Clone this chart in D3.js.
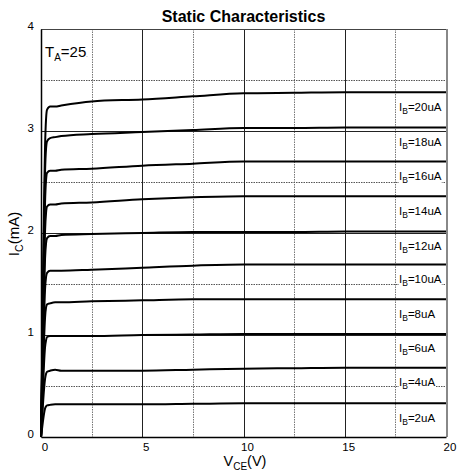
<!DOCTYPE html>
<html>
<head>
<meta charset="utf-8">
<script src="https://cdn.jsdelivr.net/npm/d3@7"></script>
<style>
  html, body { margin: 0; padding: 0; background: #fff; }
  svg { display: block; font-family: "Liberation Sans", Arial, sans-serif; }
</style>
</head>
<body>
<svg id="chart" width="458" height="473"></svg>
<script>
// Collector-emitter voltage sample points (V)
const vce = [0, 0.05, 0.1, 0.15, 0.2, 0.25, 0.3, 0.45, 0.7, 1, 2.5, 5, 7.5, 10, 12.5, 15, 17.5, 20];

// Base current of each curve (uA)
const ibLevels = [20, 18, 16, 14, 12, 10, 8, 6, 4, 2];

// Collector current (mA) for each base current, at the vce points above
const ic20 = [0, 0.70, 1.55, 2.30, 2.85, 3.12, 3.21, 3.24, 3.24, 3.25, 3.29, 3.31, 3.34, 3.37, 3.375, 3.38, 3.38, 3.38];
const ic18 = [0, 0.65, 1.40, 2.10, 2.60, 2.83, 2.90, 2.93, 2.94, 2.95, 2.97, 2.99, 3.01, 3.03, 3.03, 3.035, 3.035, 3.035];
const ic16 = [0, 0.58, 1.25, 1.85, 2.30, 2.52, 2.59, 2.61, 2.61, 2.62, 2.63, 2.66, 2.68, 2.70, 2.70, 2.70, 2.70, 2.70];
const ic14 = [0, 0.52, 1.10, 1.62, 2.02, 2.20, 2.26, 2.28, 2.28, 2.29, 2.30, 2.33, 2.35, 2.36, 2.36, 2.36, 2.36, 2.36];
const ic12 = [0, 0.45, 0.95, 1.40, 1.75, 1.90, 1.95, 1.97, 1.97, 1.98, 1.99, 2.00, 2.01, 2.01, 2.01, 2.015, 2.015, 2.015];
const ic10 = [0, 0.38, 0.80, 1.17, 1.45, 1.57, 1.61, 1.63, 1.63, 1.63, 1.64, 1.66, 1.68, 1.69, 1.69, 1.69, 1.69, 1.69];
const ic8  = [0, 0.31, 0.65, 0.95, 1.17, 1.27, 1.30, 1.31, 1.32, 1.32, 1.33, 1.34, 1.35, 1.35, 1.35, 1.35, 1.35, 1.35];
const ic6  = [0, 0.24, 0.50, 0.72, 0.88, 0.95, 0.98, 0.99, 0.99, 0.99, 0.99, 1.00, 1.005, 1.01, 1.01, 1.01, 1.01, 1.01];
const ic4  = [0, 0.16, 0.33, 0.47, 0.57, 0.62, 0.64, 0.65, 0.66, 0.65, 0.65, 0.65, 0.66, 0.67, 0.675, 0.68, 0.68, 0.68];
const ic2  = [0, 0.08, 0.16, 0.23, 0.28, 0.30, 0.31, 0.315, 0.32, 0.32, 0.32, 0.32, 0.325, 0.33, 0.33, 0.33, 0.33, 0.33];

const icSeries = [ic20, ic18, ic16, ic14, ic12, ic10, ic8, ic6, ic4, ic2];

// Axis ticks and grid positions
const xTicks = [0, 5, 10, 15, 20];
const yTicks = [0, 1, 2, 3, 4];
const xMajorGrid = [5, 10, 15];
const xMinorGrid = [2.5, 7.5, 12.5, 17.5];
const yMajorGrid = [1, 2, 3];
const yMinorGrid = [0.5, 1.5, 2.5, 3.5];

const svg = d3.select("#chart");
const plotLeft = 41, plotRight = 446, plotTop = 29, plotBottom = 437;

const x = d3.scaleLinear().domain([0, 20]).range([plotLeft, plotRight]);
const y = d3.scaleLinear().domain([0, 4]).range([plotBottom, plotTop]);

// Grid
const grid = svg.append("g");
grid.selectAll(".vmin").data(xMinorGrid).join("line")
  .attr("x1", d => Math.round(x(d)) + 0.5).attr("x2", d => Math.round(x(d)) + 0.5)
  .attr("y1", plotTop).attr("y2", plotBottom)
  .attr("stroke", "#777").attr("stroke-width", 1).attr("stroke-dasharray", "1.5,1");
grid.selectAll(".hmin").data(yMinorGrid).join("line")
  .attr("x1", plotLeft).attr("x2", plotRight)
  .attr("y1", d => Math.round(y(d)) + 0.5).attr("y2", d => Math.round(y(d)) + 0.5)
  .attr("stroke", "#555").attr("stroke-width", 1).attr("stroke-dasharray", "1.5,1");
grid.selectAll(".vmaj").data(xMajorGrid).join("line")
  .attr("x1", d => Math.round(x(d)) + 0.5).attr("x2", d => Math.round(x(d)) + 0.5)
  .attr("y1", plotTop).attr("y2", plotBottom)
  .attr("stroke", "#222").attr("stroke-width", 1);
grid.selectAll(".hmaj").data(yMajorGrid).join("line")
  .attr("x1", plotLeft).attr("x2", plotRight)
  .attr("y1", d => Math.round(y(d)) + 0.5).attr("y2", d => Math.round(y(d)) + 0.5)
  .attr("stroke", "#222").attr("stroke-width", 1);

// Frame: top and right edges
svg.append("line").attr("x1", plotLeft).attr("x2", plotRight + 1)
  .attr("y1", plotTop + 0.5).attr("y2", plotTop + 0.5).attr("stroke", "#444").attr("stroke-width", 1);
svg.append("line").attr("x1", plotRight + 1).attr("x2", plotRight + 1)
  .attr("y1", plotTop).attr("y2", plotBottom).attr("stroke", "#888").attr("stroke-width", 2);

// Axes
const xAxis = svg.append("g").attr("transform", `translate(0,${plotBottom})`)
  .call(d3.axisBottom(x).tickValues(xTicks).tickSize(0).tickPadding(6).tickFormat(d3.format("d")));
xAxis.select(".domain").attr("stroke", "#000").attr("stroke-width", 1.5);
xAxis.selectAll("text").attr("font-size", 11.5).attr("fill", "#000")
  .attr("font-family", "Liberation Sans, Arial, sans-serif").attr("dx", 3.5);

const yAxis = svg.append("g").attr("transform", `translate(${plotLeft},0)`)
  .call(d3.axisLeft(y).tickValues(yTicks).tickSize(0).tickPadding(7).tickFormat(d3.format("d")));
yAxis.select(".domain").attr("stroke", "#000").attr("stroke-width", 1.5);
yAxis.selectAll("text").attr("font-size", 11.5).attr("fill", "#000")
  .attr("font-family", "Liberation Sans, Arial, sans-serif").attr("dy", "0.02em");

// Characteristic curves
const line = d3.line()
  .x((d, i) => x(vce[i]))
  .y(d => y(d))
  .curve(d3.curveMonotoneX);

svg.append("g").selectAll("path").data(icSeries).join("path")
  .attr("d", d => line(d))
  .attr("fill", "none").attr("stroke", "#000").attr("stroke-width", 2)
  .attr("stroke-linejoin", "round");

// Curve labels, each just under the flat end of its curve
const labels = svg.append("g");
ibLevels.forEach((ib, k) => {
  const last = icSeries[k][icSeries[k].length - 1];
  const g = labels.append("g");
  const t = g.append("text").attr("x", 399).attr("y", y(last) + 18.5)
    .attr("font-size", 11.5).attr("fill", "#000");
  t.append("tspan").text("I");
  t.append("tspan").attr("font-size", 8.5).attr("dy", 3).text("B");
  t.append("tspan").attr("dy", -3).text(`=${ib}uA`);
  const bb = t.node().getBBox();
  g.insert("rect", "text").attr("x", bb.x).attr("y", bb.y)
    .attr("width", bb.width).attr("height", bb.height).attr("fill", "#fff");
});

// Temperature note
const ta = svg.append("text").attr("x", 45).attr("y", 57).attr("font-size", 15).attr("fill", "#000");
ta.append("tspan").text("T");
ta.append("tspan").attr("font-size", 10).attr("dy", 4).text("A");
ta.append("tspan").attr("dy", -4).text("=25");
ta.append("tspan").attr("font-size", 5).text(".");

// Title
svg.append("text").attr("x", (plotLeft + plotRight) / 2).attr("y", 21.5)
  .attr("text-anchor", "middle").attr("font-size", 16).attr("font-weight", "bold")
  .text("Static Characteristics");

// Axis titles
const xt = svg.append("text").attr("x", 245).attr("y", 465.5)
  .attr("text-anchor", "middle").attr("font-size", 14.5);
xt.append("tspan").text("V");
xt.append("tspan").attr("font-size", 10).attr("dy", 4).text("CE");
xt.append("tspan").attr("dy", -4).text("(V)");

const yt = svg.append("text").attr("transform", "translate(19,234) rotate(-90)")
  .attr("text-anchor", "middle").attr("font-size", 15);
yt.append("tspan").text("I");
yt.append("tspan").attr("font-size", 10.5).attr("dy", 4).text("C");
yt.append("tspan").attr("dy", -4).text("(mA)");
</script>
</body>
</html>
